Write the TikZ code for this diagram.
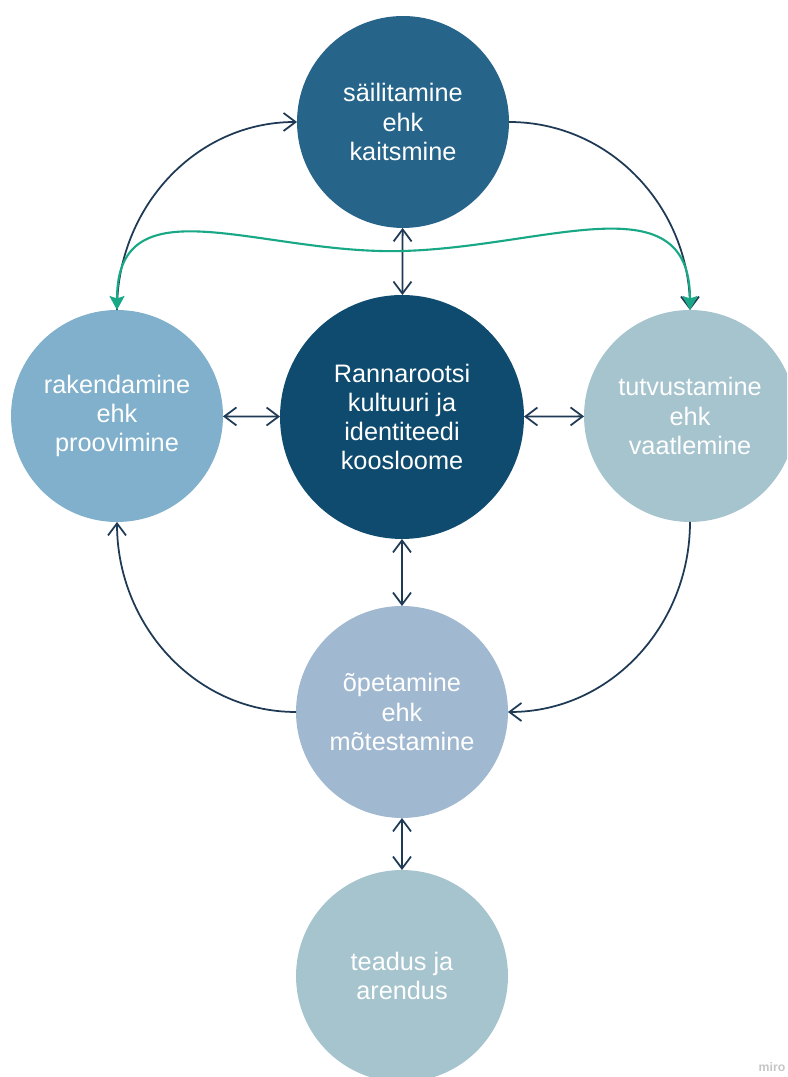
\documentclass[tikz,border=0pt]{standalone}
\usepackage{fontspec}
\setmainfont{Liberation Sans}
\usetikzlibrary{arrows.meta}

\definecolor{topc}{HTML}{26648A}
\definecolor{midc}{HTML}{0F4B6E}
\definecolor{leftc}{HTML}{80B0CC}
\definecolor{rightc}{HTML}{A6C4CE}
\definecolor{teachc}{HTML}{A0B8D0}
\definecolor{linec}{HTML}{1F3A55}
\definecolor{greenc}{HTML}{18A886}

\begin{document}
\begin{tikzpicture}
            [x=0.02cm, y=0.02cm,
            node/.style={circle, inner sep=0pt, outer sep=0pt, minimum size=4.24cm, text=white, align=center, font=\fontsize{14.4}{16.6}\selectfont},
            edge/.style={line width=1pt, linec, {Straight Barb[length=2.4mm,width=3.6mm]}-{Straight Barb[length=2.4mm,width=3.6mm]}},
            onearrow/.style={line width=1pt, linec, -{Straight Barb[length=2.4mm,width=3.6mm]}},
            greenedge/.style={line width=1.2pt, greenc, {Stealth[length=2.8mm,width=3mm,inset=0.5mm]}-{Stealth[length=2.8mm,width=3mm,inset=0.5mm]}}]

            \useasboundingbox (0,0) rectangle (787,1077);
            \clip (0,0) rectangle (787,1077);
            \fill[white] (0,0) rectangle (787,1077);

            \node[node, fill=topc] (s) at (403,955) {säilitamine\\ehk\\kaitsmine};
            \node[node, fill=midc, minimum size=4.88cm] (k) at (402,660) {Rannarootsi\\kultuuri ja\\identiteedi\\koosloome};
            \node[node, fill=leftc] (r) at (117,661) {rakendamine\\ehk\\proovimine};
            \node[node, fill=rightc] (t) at (690,661) {tutvustamine\\ehk\\vaatlemine};
            \node[node, fill=teachc] (o) at (402,365) {õpetamine\\ehk\\mõtestamine};
            \node[node, fill=rightc] (a) at (402,101) {teadus ja\\arendus};
            \node[text=gray!45, font=\bfseries\fontsize{7}{8}\selectfont] (miro) at (772,10) {miro};

            \draw[edge] (r) -- (k);
            \draw[edge] (k) -- (t);
            \draw[edge] (s) -- (k);
            \draw[edge] (k) -- (o);
            \draw[edge] (o) -- (a);

            \draw[onearrow] (r.north) to[out=90, in=180] (s.west);
            \draw[onearrow] (s.east) to[out=0, in=90] (t.north);
            \draw[onearrow] (t.south) to[out=-90, in=0] (o.east);
            \draw[onearrow] (o.west) to[out=180, in=-90] (r.south);

            \coordinate (gmid) at (403,826);
            \draw[greenedge] (r.north) .. controls (117,897) and (260,822) .. (gmid)
                .. controls (546,830) and (690,897) .. (t.north);

        \end{tikzpicture}
\end{document}
